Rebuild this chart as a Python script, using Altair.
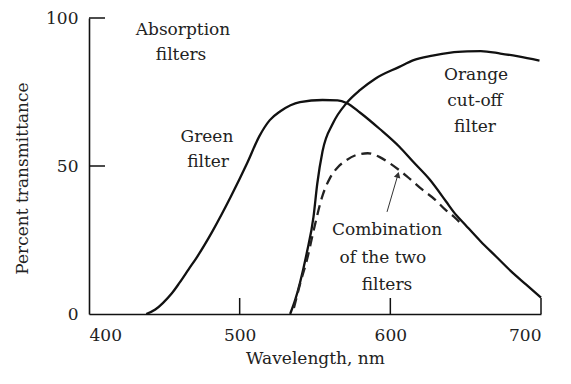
import altair as alt
import pandas as pd

# Transmittance curves (wavelength in nm, percent transmittance)
green_nm = [438, 444, 449, 455, 460, 466, 472, 482, 494, 505, 513, 520, 527, 540, 555,
            565, 571, 580, 593, 606, 615, 626, 637, 642, 650, 660, 670, 680, 690, 700]
green_pct = [0, 1.5, 3.7, 7, 10.5, 15, 19.5, 28, 39.5, 51, 60, 65.5, 68.5, 71.6, 72.3,
             72.2, 71.3, 68, 62.5, 56.5, 51.5, 45.5, 38, 34.5, 30, 24.5, 19.5, 14.5, 10, 5.5]

orange_nm = [533.5, 537, 540, 544.5, 549, 551.5, 555, 562, 571, 580, 590, 606, 615, 628,
             640, 651, 660, 673, 685, 699]
orange_pct = [0, 5, 10.5, 20.5, 32.8, 44, 55, 64.5, 71.3, 75.7, 79.5, 83.5, 85.7, 87.3,
              88.3, 88.7, 88.8, 88, 87, 85.6]

combo_nm = [536, 540, 545, 549, 555, 560, 565, 571, 578, 585, 593, 600, 611, 620, 630,
            637, 642, 647]
combo_pct = [2, 10, 19, 28, 40, 46, 49.5, 52, 53.8, 54.3, 53, 50.8, 46.5, 42.5, 38.5,
             35, 33, 30.5]

# Text annotations, one row per line of text
label_text = ["Absorption", "filters", "Green", "filter", "Orange", "cut-off", "filter",
              "Combination", "of the two", "filters"]
label_nm = [462.4, 461.1, 478.3, 479.0, 656.9, 656.2, 656.2, 597.8, 595.1, 597.8]
label_pct = [95.9, 87.5, 59.8, 51.4, 80.7, 72.0, 63.2, 28.4, 18.9, 9.8]

# Pointer from the "Combination" label up to the dashed curve
arrow_nm = [597.8]
arrow_pct = [34.5]
arrow_nm2 = [605.0]
arrow_pct2 = [47.0]

# Axis tick values
x_ticks = [400, 500, 600, 700]
y_ticks = [0, 50, 100]

W, H = 452, 296
FONT = "DejaVu Serif"
INK = "#111111"

x_scale = alt.Scale(domain=[400, 700], nice=False, zero=False)
y_scale = alt.Scale(domain=[0, 100], nice=False)

x_enc = alt.X(
    "nm:Q", scale=x_scale,
    axis=alt.Axis(values=x_ticks, title="Wavelength, nm", tickSize=0, labelPadding=13,
                  grid=False, titleY=44, titleBaseline="middle"),
)
y_enc = alt.Y(
    "pct:Q", scale=y_scale,
    axis=alt.Axis(values=y_ticks, title="Percent transmittance", tickSize=0,
                  labelPadding=11, grid=False, titleX=-67, titleY=160,
                  titleBaseline="middle", titleAlign="center", titleAngle=270),
)

def curve(nm, pct, name):
    return pd.DataFrame({"nm": nm, "pct": pct, "series": name})

green = alt.Chart(curve(green_nm, green_pct, "green")).mark_line(
    color=INK, strokeWidth=2.3, interpolate="monotone"
).encode(x=x_enc, y=y_enc)

orange = alt.Chart(curve(orange_nm, orange_pct, "orange")).mark_line(
    color=INK, strokeWidth=2.3, interpolate="monotone"
).encode(x="nm:Q", y="pct:Q")

combo = alt.Chart(curve(combo_nm, combo_pct, "combo")).mark_line(
    color="#222222", strokeWidth=2.3, strokeDash=[10, 6], interpolate="monotone"
).encode(x="nm:Q", y="pct:Q")

labels = alt.Chart(pd.DataFrame({"nm": label_nm, "pct": label_pct, "t": label_text})).mark_text(
    font=FONT, fontSize=17, color="#222222", align="center", baseline="middle"
).encode(x="nm:Q", y="pct:Q", text="t:N")

arrow_df = pd.DataFrame({"nm": arrow_nm, "pct": arrow_pct, "nm2": arrow_nm2, "pct2": arrow_pct2})
arrow_line = alt.Chart(arrow_df).mark_rule(color="#333333", strokeWidth=1).encode(
    x="nm:Q", y="pct:Q", x2="nm2:Q", y2="pct2:Q"
)
arrow_head = alt.Chart(arrow_df).mark_point(
    shape="triangle-up", filled=True, color="#333333", size=45, angle=16, opacity=1
).encode(x="nm2:Q", y="pct2:Q")

# Inward-pointing tick marks on both axes
xt = alt.Chart(pd.DataFrame({"nm": x_ticks[1:]})).mark_rule(color=INK, strokeWidth=1.5).encode(
    x="nm:Q", y=alt.value(H), y2=alt.value(H - 16)
)
yt = alt.Chart(pd.DataFrame({"pct": y_ticks[1:]})).mark_rule(color=INK, strokeWidth=1.5).encode(
    y="pct:Q", x=alt.value(0), x2=alt.value(16)
)

chart = alt.layer(green, orange, combo, arrow_line, arrow_head, labels, xt, yt).properties(
    width=W, height=H,
    padding={"left": 89, "top": 18, "right": 30, "bottom": 70},
    autosize=alt.AutoSizeParams(type="none"),
).configure_view(stroke=None).configure_axis(
    domainColor=INK, domainWidth=1.6, labelFont=FONT, labelFontSize=17, labelColor="#222222",
    titleFont=FONT, titleFontSize=17, titleFontWeight="normal", titleColor="#222222",
)

chart.save("out.html", embed_options={"renderer": "svg", "actions": False})
